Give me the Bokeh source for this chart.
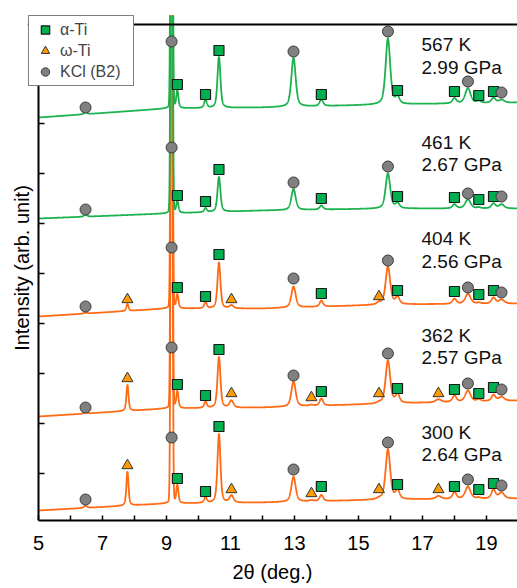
import numpy as np
from bokeh.plotting import figure
from bokeh.models import Range1d, FixedTicker, Legend, LegendItem, Span, LinearAxis
from bokeh.core.properties import value
from bokeh.embed import file_html
from bokeh.resources import INLINE

FONT = "Liberation Sans"

# ---- data (y in arbitrary offset intensity units) ----
KCL_POS = [6.47, 9.16, 12.97, 15.92, 18.42, 19.47]
ALPHA_POS = [9.34, 10.22, 10.64, 13.84, 16.22, 18.0, 18.76, 19.22]
OMEGA_POS = [7.78, 11.03, 13.53, 15.64, 17.5]

KCL_FWHM = [0.12, 0.06, 0.16, 0.17, 0.2, 0.2]
ALPHA_FWHM = [0.08, 0.1, 0.11, 0.13, 0.15, 0.15, 0.15, 0.15]
OMEGA_FWHM = [0.08, 0.15, 0.15, 0.15, 0.2]
KCL_ETA = [0.5, 0.03, 0.5, 0.5, 0.5, 0.5]
ALPHA_ETA = [0.5] * 8
OMEGA_ETA = [0.5] * 5

BASE_THETA = [5, 9, 12, 16, 20]

LABEL_T = ["567 K", "461 K", "404 K", "362 K", "300 K"]
LABEL_P = ["2.99 GPa", "2.67 GPa", "2.56 GPa", "2.57 GPa", "2.64 GPa"]

BASE_567 = [403, 412, 413, 416, 418]
BASE_461 = [302, 307, 310, 312, 312]
BASE_404 = [204, 212, 212, 216, 217]
BASE_362 = [104, 112, 113, 117, 120]
BASE_300 = [10, 17, 18, 21, 22]

H_KCL_567 = [2, 800, 49, 66, 15, 3]
H_ALPHA_567 = [18, 8, 51, 6.5, 7, 5, 2, 5]
H_OMEGA_567 = [0, 0, 0, 0, 0]
H_KCL_461 = [2, 800, 21, 35, 9, 4]
H_ALPHA_461 = [12, 4, 35, 4, 5, 4, 1, 5]
H_OMEGA_461 = [0, 0, 0, 0, 0]
H_KCL_404 = [1, 800, 21, 38, 10, 4]
H_ALPHA_404 = [14, 6, 46, 6, 7, 5, 1, 6]
H_OMEGA_404 = [7, 3, 0, 2, 0]
H_KCL_362 = [1, 800, 25, 43, 11, 4]
H_ALPHA_362 = [17, 6, 51, 7, 9, 6, 2, 6]
H_OMEGA_362 = [26, 7, 1, 1, 3]
H_KCL_300 = [2, 800, 25, 50, 12, 6]
H_ALPHA_300 = [18, 5.5, 69, 6, 9, 6.5, 1, 9]
H_OMEGA_300 = [34, 7, 1, 1, 3]

# marker heights
MK_KCL_567 = [413, 479, 469, 489, 439, 428]
MK_ALPHA_567 = [436, 426, 470, 426, 430, 429, 425, 429]
MK_KCL_461 = [311, 373, 338, 354, 327, 324]
MK_ALPHA_461 = [325, 319, 351, 322, 324, 323, 321, 324]
MK_KCL_404 = [214, 273, 242, 260, 233, 228]
MK_ALPHA_404 = [233, 224, 266, 227, 230, 229, 226, 230]
MK_OMEGA_404_POS = [7.78, 11.03, 15.64]
MK_OMEGA_404 = [221, 221, 224]
MK_KCL_362 = [113, 173, 145, 167, 137, 131]
MK_ALPHA_362 = [136, 125, 171, 129, 132, 131, 127, 133]
MK_OMEGA_362 = [142, 127, 123, 127, 127]
MK_KCL_300 = [21, 83, 51, 78, 41, 35]
MK_ALPHA_300 = [42, 29, 94, 34, 36, 34, 31, 37]
MK_OMEGA_300 = [55, 31, 27, 31, 31]

X_TICKS = [5, 7, 9, 11, 13, 15, 17, 19]
X_MINOR = [6, 8, 10, 12, 14, 16, 18]
Y_TICKS = [47, 97, 147, 197, 247, 297, 347, 397]

# label layout
LABEL_X = 16.97
LABEL_Y1 = [476, 378, 282, 185, 88]
LABEL_Y2 = [453, 356, 259, 163, 66]

GREEN = "#1bb24e"
ORANGE = "#ff6a14"
SQ_FILL = "#00b050"
TRI_FILL = "#ff9a00"
CIR_FILL = "#808080"

X_MIN = 5.0
X_MAX = 19.97
Y_TOP = 496          # top border of the axes box
PX_PER_DEG = 32.0
X_VIEW_MIN = X_MIN - 11 / PX_PER_DEG   # room inside the frame for the legend box
Y_VIEW_MAX = 505
THETA = np.linspace(X_MIN, X_MAX, 4000)


def profile(base, h_kcl, h_alpha, h_omega):
    y = np.interp(THETA, BASE_THETA, base).astype(float)
    for pos, hs, ws, es in ((KCL_POS, h_kcl, KCL_FWHM, KCL_ETA),
                            (ALPHA_POS, h_alpha, ALPHA_FWHM, ALPHA_ETA),
                            (OMEGA_POS, h_omega, OMEGA_FWHM, OMEGA_ETA)):
        for c, h, w, e in zip(pos, hs, ws, es):
            d = (THETA - c) / w
            y += h * (e / (1 + 4 * d * d) + (1 - e) * np.exp(-4 * np.log(2) * d * d))
    return y


p = figure(width=517, height=588, output_backend="svg", toolbar_location=None, tools="",
           x_range=Range1d(X_VIEW_MIN, X_MAX), y_range=Range1d(0, Y_VIEW_MAX),
           min_border_left=27, min_border_right=0, min_border_top=15, min_border_bottom=68)
p.grid.visible = False
p.outline_line_color = None
p.background_fill_color = "white"

patterns = [
    (BASE_300, H_KCL_300, H_ALPHA_300, H_OMEGA_300, ORANGE),
    (BASE_362, H_KCL_362, H_ALPHA_362, H_OMEGA_362, ORANGE),
    (BASE_404, H_KCL_404, H_ALPHA_404, H_OMEGA_404, ORANGE),
    (BASE_461, H_KCL_461, H_ALPHA_461, H_OMEGA_461, GREEN),
    (BASE_567, H_KCL_567, H_ALPHA_567, H_OMEGA_567, GREEN),
]
for base, hk, ha, ho, col in patterns:
    p.line(THETA, profile(base, hk, ha, ho), line_color=col, line_width=1.8)

sq_kw = dict(marker="square", size=10, fill_color=SQ_FILL, line_color="#1a1a1a", line_width=1.2)
tri_kw = dict(marker="triangle", size=11, fill_color=TRI_FILL, line_color="#333333", line_width=1.0)
cir_kw = dict(marker="circle", size=11, fill_color=CIR_FILL, line_color="#3a3a3a", line_width=1.0)

r_sq = None
r_tri = None
r_cir = None
for mk in (MK_ALPHA_567, MK_ALPHA_461, MK_ALPHA_404, MK_ALPHA_362, MK_ALPHA_300):
    r_sq = p.scatter(ALPHA_POS, mk, **sq_kw)
p.scatter(MK_OMEGA_404_POS, MK_OMEGA_404, **tri_kw)
for mk in (MK_OMEGA_362, MK_OMEGA_300):
    r_tri = p.scatter(OMEGA_POS, mk, **tri_kw)
for mk in (MK_KCL_567, MK_KCL_461, MK_KCL_404, MK_KCL_362, MK_KCL_300):
    r_cir = p.scatter(KCL_POS, mk, **cir_kw)

txt_kw = dict(text_font=value(FONT), text_font_size="19px", text_color="#111111",
              text_align="left", text_baseline="middle")
p.text(x=[LABEL_X] * 5, y=LABEL_Y1, text=LABEL_T, **txt_kw)
p.text(x=[LABEL_X] * 5, y=LABEL_Y2, text=LABEL_P, **txt_kw)

# x axis
xa = p.xaxis[0]
xa.bounds = (X_MIN, X_MAX)
xa.ticker = FixedTicker(ticks=X_TICKS, minor_ticks=X_MINOR)
xa.axis_label = "2θ (deg.)"
xa.axis_line_width = 2
xa.major_tick_in = 5
xa.major_tick_out = 0
xa.minor_tick_in = 5
xa.minor_tick_out = 0
xa.major_tick_line_width = 1.5
xa.minor_tick_line_width = 1.5
xa.major_label_text_font = FONT
xa.major_label_text_font_size = "20px"
xa.major_label_text_color = "black"
xa.major_label_standoff = 15
xa.axis_label_text_font = FONT
xa.axis_label_text_font_size = "20px"
xa.axis_label_text_font_style = "normal"
xa.axis_label_text_color = "black"
xa.axis_label_standoff = 8

# y axis line and ticks, drawn at 2θ = 5
ya = p.yaxis[0]
ya.fixed_location = X_MIN
ya.bounds = (0, 460)
ya.ticker = FixedTicker(ticks=Y_TICKS, minor_ticks=[])
ya.axis_line_width = 2
ya.major_tick_in = 6
ya.major_tick_out = 0
ya.major_tick_line_width = 1.5
ya.minor_tick_line_color = None
ya.major_label_text_font_size = "1px"
ya.major_label_text_color = None
ya.major_label_standoff = 0

# y axis title only, in the left panel
ylab = LinearAxis(ticker=FixedTicker(ticks=[]), bounds=(0, 460),
                  axis_label="Intensity (arb. unit)", axis_line_color=None,
                  major_tick_line_color=None, minor_tick_line_color=None,
                  major_label_text_font_size="1px", major_label_text_color=None,
                  major_label_standoff=0, axis_label_standoff=-5,
                  axis_label_text_font=FONT, axis_label_text_font_size="20px",
                  axis_label_text_font_style="normal", axis_label_text_color="black")
p.add_layout(ylab, "left")

top_line = Span(location=Y_TOP, dimension="width", line_color="black", line_width=2)
p.add_layout(top_line)

legend = Legend(items=[LegendItem(label="α-Ti", renderers=[r_sq]),
                       LegendItem(label="ω-Ti", renderers=[r_tri]),
                       LegendItem(label="KCl (B2)", renderers=[r_cir])],
                location=(1, 434), glyph_width=26, glyph_height=21, spacing=0,
                padding=3, label_standoff=2, label_width=70, margin=0,
                label_text_font=FONT, label_text_font_size="16px",
                border_line_color="black", border_line_width=1.5,
                background_fill_color="white", background_fill_alpha=1.0)
p.add_layout(legend)

open("out.html", "w").write(file_html(p, INLINE))
